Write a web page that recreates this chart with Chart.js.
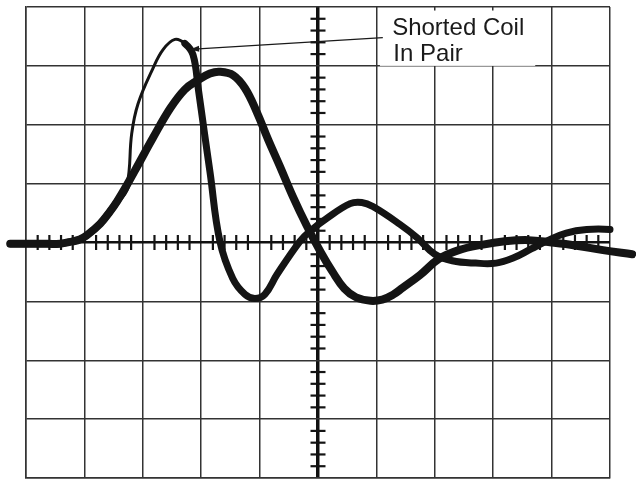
<!DOCTYPE html>
<html>
<head>
<meta charset="utf-8">
<script src="https://cdn.jsdelivr.net/npm/chart.js@4.4.1/dist/chart.umd.min.js"></script>
<style>
  html, body { margin: 0; padding: 0; background: #fff; }
</style>
</head>
<body>
<canvas id="scope" width="636" height="479"></canvas>
<script>
// values are in graticule divisions: x 0..10 across, y -4..4 up/down from centre
const normalX = [-0.27, 0.24, 0.58, 0.80, 0.92, 1.04, 1.27, 1.44, 1.56, 1.73,
    1.92, 2.17, 2.47, 2.72, 2.93, 3.15, 3.32, 3.55, 3.75, 3.95, 4.15, 4.35,
    4.57, 4.81, 5.05, 5.25, 5.45, 5.65, 5.90, 6.10, 6.28, 6.45, 6.75, 7.07, 7.41, 7.80,
    8.20, 8.60, 9.00, 9.40, 9.88, 10.38];
const normalY = [-0.02, -0.02, -0.02, 0.02, 0.05, 0.12, 0.32, 0.53, 0.70, 0.98,
    1.32, 1.77, 2.28, 2.60, 2.75, 2.87, 2.90, 2.84, 2.62, 2.22, 1.74, 1.29,
    0.78, 0.28, -0.17, -0.50, -0.78, -0.93, -0.99, -0.97, -0.89, -0.77, -0.55, -0.28, -0.13, -0.04,
    0.02, 0.04, 0.00, -0.05, -0.13, -0.20];

// "Shorted Coil In Pair" trace
const shortedX = [-0.27, 0.24, 0.58, 0.80, 0.92, 1.04, 1.27, 1.44, 1.56, 1.73,
    1.81, 1.92, 2.17, 2.35, 2.55, 2.72, 2.86, 2.95, 3.05, 3.15, 3.32, 3.54, 3.75,
    3.92, 4.09, 4.30, 4.69, 4.86, 5.15, 5.55, 5.75, 5.94, 6.40, 6.70, 7.00, 7.30,
    7.70, 8.05, 8.35, 8.65, 8.95, 9.25, 9.60, 10.00, 10.33];
const shortedY = [-0.02, -0.02, -0.02, 0.02, 0.05, 0.12, 0.32, 0.53, 0.70, 0.98,
    1.85, 2.36, 2.95, 3.28, 3.45, 3.38, 3.19, 2.61, 1.90, 1.20, 0.02, -0.61, -0.88,
    -0.95, -0.88, -0.54, 0.02, 0.19, 0.41, 0.66, 0.68, 0.61, 0.31, 0.08, -0.20, -0.31,
    -0.35, -0.35, -0.26, -0.11, 0.04, 0.16, 0.22, 0.22, 0.16];

// minor division marks on the centre lines
const minorMarksX = [0.2, 0.4, 0.6, 0.8, 1.2, 1.4, 1.6, 1.8, 2.2, 2.4, 2.6, 2.8,
    3.2, 3.4, 3.6, 3.8, 4.2, 4.4, 4.6, 4.8, 5.2, 5.4, 5.6, 5.8, 6.2, 6.4, 6.6, 6.8,
    7.2, 7.4, 7.6, 7.8, 8.2, 8.4, 8.6, 8.8, 9.2, 9.4, 9.6, 9.8];
const minorMarksY = [-3.8, -3.6, -3.4, -3.2, -2.8, -2.6, -2.4, -2.2, -1.8, -1.6,
    -1.4, -1.2, -0.8, -0.6, -0.4, -0.2, 0.2, 0.4, 0.6, 0.8, 1.2, 1.4, 1.6, 1.8,
    2.2, 2.4, 2.6, 2.8, 3.2, 3.4, 3.6, 3.8];

const noteLines = ['Shorted Coil', 'In Pair'];

function toPoints(xs, ys) {
    return xs.map((x, i) => ({ x: x, y: ys[i] }));
}

// label + pointer drawn over the graticule
const notePlugin = {
    id: 'note',
    beforeDatasetsDraw(chart) {
        const { ctx, scales: { x, y } } = chart;
        ctx.save();
        ctx.fillStyle = '#fff';
        const l = x.getPixelForValue(6.06), r = x.getPixelForValue(8.72);
        const t = y.getPixelForValue(3.94), b = y.getPixelForValue(3.0);
        ctx.fillRect(l, t, r - l, b - t);
        ctx.restore();
    },
    afterDatasetsDraw(chart) {
        const { ctx, scales: { x, y } } = chart;
        ctx.save();
        ctx.fillStyle = '#1a1a1a';
        ctx.font = '24px "Liberation Sans", Arial, sans-serif';
        ctx.textBaseline = 'alphabetic';
        ctx.fillText(noteLines[0], x.getPixelForValue(6.27), y.getPixelForValue(3.53));
        ctx.fillText(noteLines[1], x.getPixelForValue(6.29), y.getPixelForValue(3.09));

        // pointer towards the shorted trace peak
        const x0 = x.getPixelForValue(6.11), y0 = y.getPixelForValue(3.48);
        const x1 = x.getPixelForValue(2.81), y1 = y.getPixelForValue(3.28);
        ctx.strokeStyle = '#1a1a1a';
        ctx.lineWidth = 1.3;
        ctx.beginPath();
        ctx.moveTo(x0, y0);
        ctx.lineTo(x1, y1);
        ctx.stroke();
        const ang = Math.atan2(y1 - y0, x1 - x0);
        ctx.beginPath();
        ctx.moveTo(x1, y1);
        ctx.lineTo(x1 - 9 * Math.cos(ang) + 3 * Math.sin(ang), y1 - 9 * Math.sin(ang) - 3 * Math.cos(ang));
        ctx.lineTo(x1 - 9 * Math.cos(ang) - 3 * Math.sin(ang), y1 - 9 * Math.sin(ang) + 3 * Math.cos(ang));
        ctx.closePath();
        ctx.fill();
        ctx.restore();
    }
};

const traceColor = '#141414';
const gridColor = '#333';

const chart = new Chart(document.getElementById('scope').getContext('2d'), {
    type: 'scatter',
    data: {
        datasets: [{
            label: 'Normal',
            data: toPoints(normalX, normalY),
            showLine: true,
            borderColor: traceColor,
            borderWidth: 8,
            borderCapStyle: 'round',
            borderJoinStyle: 'round',
            pointRadius: 0,
            tension: 0.4,
            clip: false
        }, {
            label: 'Shorted Coil In Pair',
            data: toPoints(shortedX, shortedY),
            showLine: true,
            borderColor: traceColor,
            borderWidth: 7,
            borderCapStyle: 'round',
            borderJoinStyle: 'round',
            pointRadius: 0,
            tension: 0.4,
            clip: false,
            segment: {
                // the fast rising edge is fainter/thinner on the photo
                borderWidth: ctx => (ctx.p0DataIndex >= 9 && ctx.p0DataIndex < 15) ? 3 : 7
            }
        }, {
            label: 'marks x',
            data: minorMarksX.map(v => ({ x: v, y: 0 })),
            pointStyle: 'line',
            rotation: 90,
            pointRadius: 7.5,
            pointBorderWidth: 2.2,
            borderColor: traceColor,
            showLine: false
        }, {
            label: 'marks y',
            data: minorMarksY.map(v => ({ x: 5, y: v })),
            pointStyle: 'line',
            rotation: 0,
            pointRadius: 7.5,
            pointBorderWidth: 2.2,
            borderColor: traceColor,
            showLine: false
        }]
    },
    options: {
        responsive: false,
        animation: false,
        layout: { autoPadding: false, padding: { left: 26, right: 26, top: 7, bottom: 1 } },
        plugins: {
            legend: { display: false },
            tooltip: { enabled: false }
        },
        scales: {
            x: {
                type: 'linear',
                min: 0,
                max: 10,
                ticks: { display: false, stepSize: 1 },
                afterFit: s => { s.height = 0; },
                grid: {
                    drawTicks: false,
                    color: ctx => ctx.tick && ctx.tick.value === 5 ? '#111' : gridColor,
                    lineWidth: ctx => ctx.tick && ctx.tick.value === 5 ? 3.5 : 1.5
                },
                border: { color: gridColor, width: 1.5 }
            },
            y: {
                type: 'linear',
                min: -4,
                max: 4,
                ticks: { display: false, stepSize: 1 },
                afterFit: s => { s.width = 0; },
                grid: {
                    drawTicks: false,
                    color: ctx => ctx.tick && ctx.tick.value === 0 ? '#111' : gridColor,
                    lineWidth: ctx => ctx.tick && ctx.tick.value === 0 ? 2.5 : 1.5
                },
                border: { color: gridColor, width: 1.5 }
            }
        }
    },
    plugins: [notePlugin]
});
</script>
</body>
</html>
